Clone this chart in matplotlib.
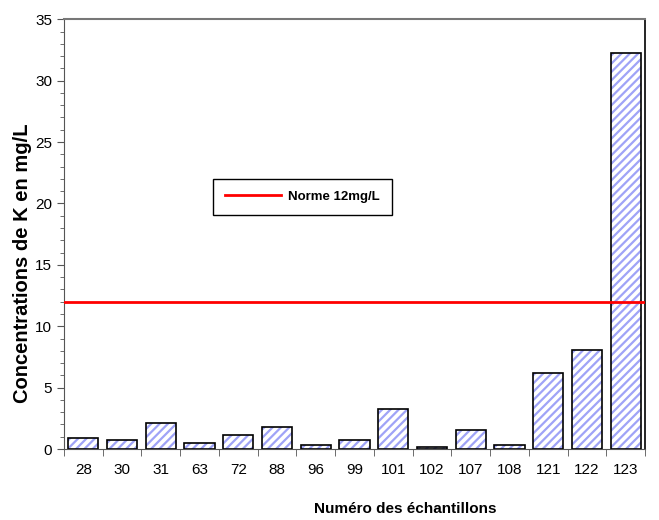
import numpy as np
import matplotlib
matplotlib.use('Agg')
import matplotlib.pyplot as plt
from matplotlib.ticker import MultipleLocator

samples = ['28', '30', '31', '63', '72', '88', '96', '99', '101', '102',
           '107', '108', '121', '122', '123']
k_conc = [0.87, 0.73, 2.14, 0.51, 1.11, 1.79, 0.30, 0.76, 3.27, 0.13,
          1.54, 0.35, 6.2, 8.07, 32.25]
norme = 12

plt.rcParams['font.family'] = ['Liberation Sans', 'DejaVu Sans']
plt.rcParams['hatch.linewidth'] = 1.6

fig = plt.figure(figsize=(6.59, 5.20), dpi=100)
ax = fig.add_axes([0.097, 0.1365, 0.882, 0.8265])

x = np.arange(len(samples))
# hatch fill in light blue, then black outline on top
ax.bar(x, k_conc, width=0.78, color='white', edgecolor='#9fa3f7',
       linewidth=0, hatch='////', zorder=2)
ax.bar(x, k_conc, width=0.78, color='none', edgecolor='black',
       linewidth=1.2, zorder=2.5)
ax.axhline(norme, color='#ff0000', lw=2, label='Norme 12mg/L', zorder=3)

ax.set_xlim(-0.5, len(samples) - 0.5)
ax.set_ylim(0, 35)
ax.set_xticks(x)
ax.set_xticklabels(samples, fontsize=11)
ax.set_xticks(np.arange(-0.5, len(samples), 1), minor=True)
ax.tick_params(axis='x', which='major', length=0, pad=10)
ax.tick_params(axis='x', which='minor', length=5, direction='out', color='#555555')
ax.yaxis.set_major_locator(MultipleLocator(5))
ax.yaxis.set_minor_locator(MultipleLocator(1))
ax.tick_params(axis='y', which='major', length=5, labelsize=11, color='#555555')
ax.tick_params(axis='y', which='minor', length=3, color='#555555')

ax.spines['top'].set_color('#777777')
ax.spines['top'].set_linewidth(1.5)
ax.spines['left'].set_color('#555555')
ax.spines['bottom'].set_color('#555555')
ax.spines['right'].set_linewidth(1.2)

ax.set_ylabel('Concentrations de K en mg/L', fontsize=14.5, fontweight='bold')
ax.yaxis.set_label_coords(-0.055, 0.433)
ax.set_xlabel('Numéro des échantillons', fontsize=11, fontweight='bold')
ax.xaxis.set_label_coords(0.587, -0.124)

leg = ax.legend(loc='upper left', bbox_to_anchor=(0.256, 0.629), fancybox=False,
                edgecolor='black', framealpha=1, handlelength=4.3, handletextpad=0.5,
                borderpad=0.9, borderaxespad=0,
                prop={'weight': 'bold', 'size': 9.5})
leg.get_frame().set_linewidth(1.0)

fig.savefig('out.png', dpi=100)
